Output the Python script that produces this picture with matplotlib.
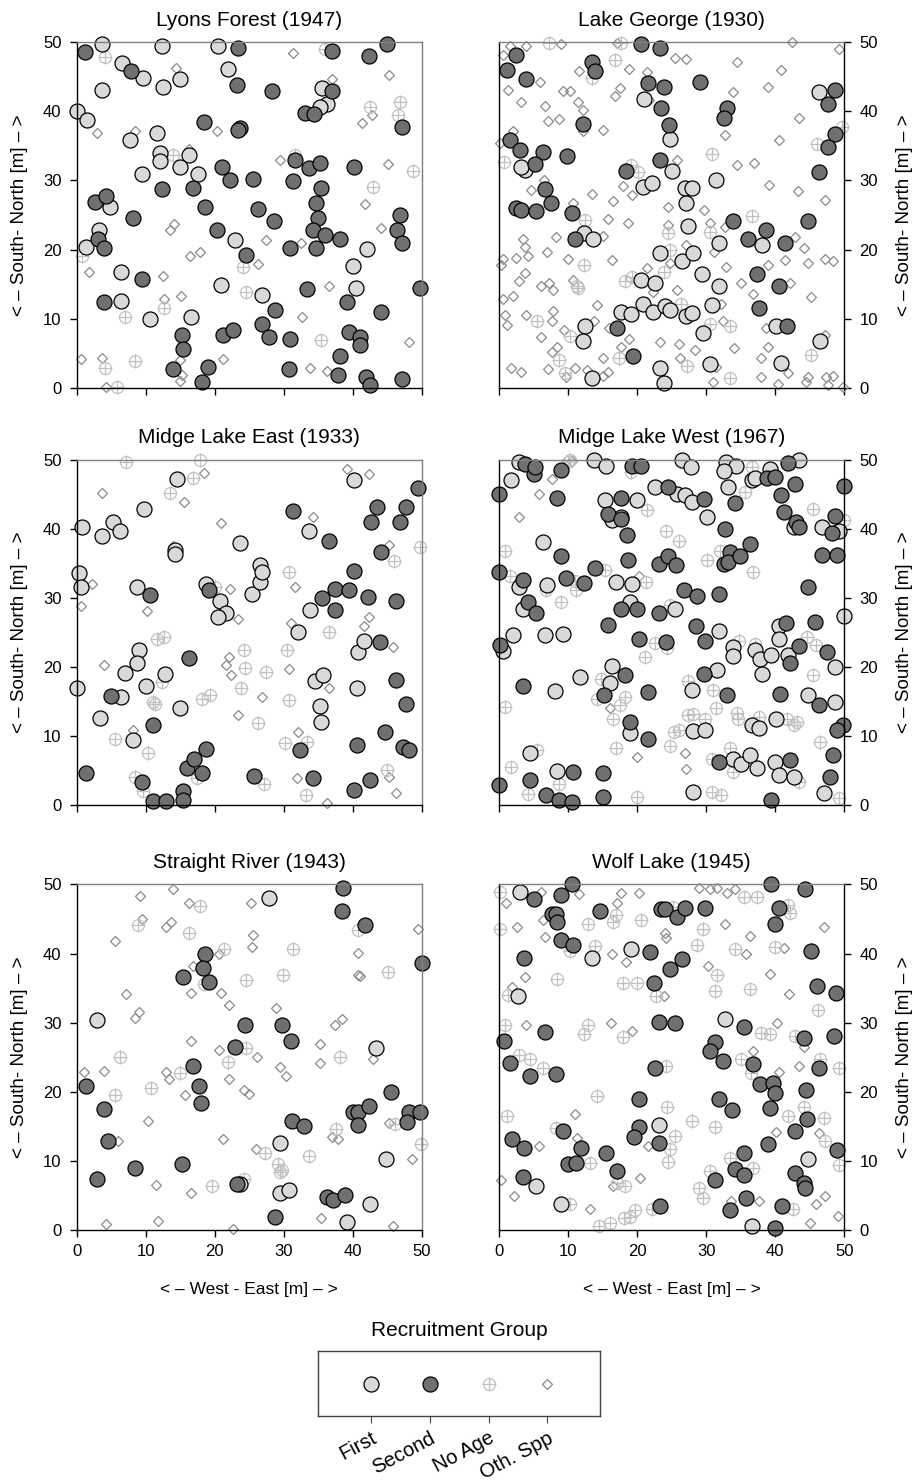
import matplotlib
matplotlib.use("Agg")
import matplotlib.pyplot as plt
import numpy as np

plt.rcParams['font.family'] = ['Liberation Sans', 'DejaVu Sans']

# ---- data: (x, y) stem positions in metres ----
lyons_first = [(3.6, 49.7), (12.3, 49.4), (20.5, 49.4), (6.5, 47.0), (9.6, 44.8), (14.9, 44.7),
               (3.7, 43.1), (12.5, 43.5), (21.9, 46.2), (0.0, 40.0), (1.5, 38.7), (35.5, 43.4),
               (36.2, 41.0), (35.3, 40.6), (11.7, 36.8), (7.7, 35.8), (12.0, 34.0), (12.0, 32.8),
               (16.2, 33.7), (14.9, 32.0), (17.6, 31.0), (9.4, 31.0), (4.8, 26.2), (3.2, 22.9),
               (1.4, 20.4), (22.9, 21.4), (6.4, 16.8), (6.4, 12.5), (10.6, 10.0), (16.6, 10.3),
               (20.9, 14.9), (26.8, 13.4), (40.1, 17.6), (40.5, 14.5), (42.0, 20.1)]
lyons_second = [(1.2, 48.6), (23.3, 49.2), (37.0, 48.8), (42.4, 48.0), (44.9, 49.8), (7.8, 45.8),
                (23.2, 43.8), (28.3, 43.0), (37.0, 42.9), (33.1, 39.8), (34.4, 39.6), (18.5, 38.5),
                (23.6, 37.6), (23.3, 37.3), (47.1, 37.7), (21.0, 32.0), (22.2, 30.0), (25.6, 30.2),
                (31.4, 29.9), (31.6, 32.9), (33.6, 31.8), (35.2, 32.5), (35.4, 28.9), (34.7, 26.8),
                (35.0, 24.5), (34.2, 22.9), (36.0, 22.1), (34.7, 20.2), (38.2, 21.6), (30.9, 20.2),
                (40.2, 31.9), (46.8, 25.0), (46.4, 22.9), (47.1, 21.0), (2.7, 26.9), (4.3, 27.8),
                (3.1, 21.6), (3.9, 20.2), (8.1, 24.5), (12.4, 28.7), (16.8, 28.9), (18.6, 26.2),
                (20.3, 22.9), (24.5, 19.2), (26.3, 25.9), (28.6, 24.2), (9.4, 15.8), (4.0, 12.4),
                (15.3, 7.7), (15.4, 5.6), (13.9, 2.7), (18.1, 0.9), (19.0, 3.0), (21.2, 7.6),
                (22.7, 8.4), (26.9, 9.2), (27.8, 7.4), (28.7, 11.2), (30.9, 7.1), (30.8, 2.7),
                (33.4, 14.3), (39.1, 12.4), (39.4, 8.0), (41.1, 7.3), (41.1, 6.2), (38.1, 4.6),
                (37.9, 1.9), (41.9, 1.6), (42.5, 0.4), (44.1, 10.9), (47.1, 1.2), (49.7, 14.5)]
lyons_noage = [(4.1, 47.9), (36.0, 49.0), (42.5, 40.6), (46.9, 41.3), (46.6, 39.5), (13.9, 33.7),
               (31.6, 33.7), (48.7, 31.4), (42.9, 29.1), (0.7, 19.1), (24.1, 17.5), (24.5, 13.8),
               (12.6, 11.5), (7.0, 10.3), (4.1, 2.8), (8.4, 3.9), (5.8, 0.1), (35.4, 6.9)]
lyons_oth = [(31.3, 48.5), (45.2, 45.3), (14.4, 46.3), (37.0, 44.7), (41.4, 38.3), (42.8, 39.5),
             (3.0, 36.8), (8.5, 37.2), (20.4, 37.1), (16.3, 34.6), (29.5, 32.9), (45.1, 32.4),
             (41.8, 26.6), (44.1, 23.1), (13.5, 22.9), (14.1, 23.7), (16.4, 19.1), (17.8, 19.7),
             (27.5, 21.4), (32.5, 21.0), (26.2, 17.9), (1.8, 16.7), (12.5, 16.2), (12.6, 12.9),
             (15.1, 13.3), (36.6, 14.8), (32.6, 10.3), (48.1, 6.6), (0.6, 4.1), (3.6, 4.3),
             (4.3, 0.1), (15.0, 4.0), (15.2, 1.8), (15.0, 1.0), (21.2, 4.1), (33.8, 2.9), (36.3, 2.4)]

george_first = [(21.0, 41.8), (24.8, 36.0), (25.0, 31.4), (3.7, 31.5), (3.2, 31.9), (20.8, 29.0),
                (22.1, 29.6), (26.9, 28.9), (27.9, 28.9), (27.1, 26.8), (27.3, 23.4), (31.4, 30.1),
                (12.3, 22.4), (13.6, 21.5), (31.9, 21.0), (38.1, 20.7), (23.3, 19.5), (26.5, 18.4),
                (28.1, 19.5), (29.4, 16.4), (31.9, 14.8), (20.6, 15.6), (22.6, 15.1), (17.6, 11.0),
                (19.1, 10.7), (20.8, 12.1), (22.3, 10.9), (24.0, 11.8), (24.8, 11.2), (27.1, 10.4),
                (27.9, 10.8), (30.9, 12.0), (29.5, 7.9), (12.4, 8.9), (12.1, 6.8), (13.5, 1.4),
                (23.3, 2.8), (23.8, 0.7), (30.5, 3.5), (40.1, 9.0), (40.8, 3.6), (46.5, 6.7),
                (46.4, 42.8)]
george_second = [(2.4, 48.2), (1.1, 46.0), (3.9, 44.7), (13.4, 47.1), (13.9, 45.9), (20.6, 49.7),
                 (23.3, 49.2), (21.5, 44.1), (23.8, 43.5), (23.5, 40.5), (24.6, 38.1), (29.1, 44.3),
                 (33.0, 40.5), (32.5, 39.0), (12.2, 38.2), (1.5, 35.9), (3.0, 34.4), (6.3, 34.1),
                 (5.2, 32.4), (9.8, 33.5), (18.4, 31.4), (23.3, 32.9), (6.6, 28.7), (7.5, 26.8),
                 (2.4, 26.0), (3.2, 25.7), (5.3, 25.6), (10.6, 25.3), (11.0, 21.5), (33.9, 24.1),
                 (36.1, 21.6), (38.7, 22.9), (41.4, 21.0), (44.8, 24.2), (37.3, 16.4), (40.5, 14.7),
                 (37.7, 11.6), (41.7, 8.9), (17.0, 8.7), (19.4, 4.6), (48.7, 43.1), (47.7, 41.1),
                 (48.7, 36.7), (47.6, 34.9), (46.4, 31.3)]
george_noage = [(7.2, 49.9), (17.7, 49.9), (16.8, 47.5), (13.4, 44.8), (0.7, 32.7), (19.1, 32.2),
                (20.1, 31.3), (30.8, 33.9), (46.0, 35.3), (49.7, 37.7), (36.6, 24.9), (12.4, 24.3),
                (24.4, 22.4), (30.6, 22.5), (24.7, 19.9), (12.3, 17.7), (18.2, 15.4), (19.2, 16.1),
                (23.8, 16.8), (11.2, 14.7), (11.4, 14.4), (26.3, 12.1), (5.5, 9.7), (10.3, 7.5),
                (30.6, 9.2), (33.4, 9.0), (8.7, 4.0), (17.4, 4.3), (27.2, 3.2), (33.4, 1.4),
                (45.2, 4.8), (9.5, 2.2)]
george_oth = [(0.6, 48.2), (1.5, 49.4), (3.9, 49.4), (9.0, 49.7), (17.0, 49.9), (25.5, 47.7),
              (27.1, 47.6), (34.4, 47.2), (42.4, 50.0), (49.3, 49.0), (18.8, 46.1), (21.4, 45.7),
              (11.6, 45.9), (40.8, 46.0), (5.9, 44.3), (1.2, 43.1), (3.1, 41.4), (6.6, 40.8),
              (9.3, 42.9), (10.2, 43.0), (11.4, 41.4), (12.1, 40.2), (17.5, 43.4), (16.8, 42.2),
              (21.7, 41.7), (33.9, 42.8), (39.0, 43.5), (43.5, 39.0), (8.6, 38.9), (7.1, 38.6),
              (15.1, 37.3), (2.0, 37.1), (0.1, 35.4), (32.7, 36.6), (40.6, 35.9), (12.2, 37.1),
              (25.8, 33.0), (34.5, 32.2), (36.9, 32.6), (39.1, 29.4), (43.3, 28.5), (47.2, 27.2),
              (4.6, 28.6), (6.5, 30.1), (13.4, 28.0), (16.5, 27.0), (17.9, 29.2), (19.2, 27.9),
              (24.5, 26.1), (10.7, 26.8), (15.8, 24.4), (18.6, 23.8), (24.5, 23.6), (29.6, 25.7),
              (30.5, 23.8), (32.7, 23.2), (42.9, 21.8), (44.1, 20.2), (44.8, 18.1), (47.2, 18.6),
              (48.4, 18.3), (3.5, 21.6), (3.7, 20.4), (0.6, 18.6), (2.4, 18.8), (4.2, 19.0),
              (6.9, 19.6), (9.9, 18.6), (8.2, 21.8), (15.1, 21.9), (16.4, 18.5), (21.4, 17.4),
              (24.7, 18.0), (27.1, 20.7), (31.1, 19.6), (32.9, 17.5), (35.1, 15.2), (36.8, 13.5),
              (39.0, 17.8), (41.4, 18.5), (42.1, 15.1), (45.2, 13.2), (3.7, 16.6), (2.8, 15.4),
              (6.0, 14.7), (7.2, 15.1), (7.8, 14.2), (2.0, 13.3), (0.6, 12.9), (10.7, 15.6),
              (14.1, 12.0), (15.9, 8.6), (22.3, 13.9), (25.8, 14.2), (32.2, 12.1), (32.4, 9.6),
              (34.0, 5.7), (38.7, 8.6), (39.0, 5.9), (0.8, 10.5), (1.1, 9.1), (3.9, 10.5),
              (7.6, 9.6), (7.8, 11.1), (9.4, 8.3), (6.1, 7.3), (8.3, 5.9), (7.6, 5.2),
              (15.0, 4.3), (13.7, 9.6), (18.8, 7.0), (17.7, 5.9), (23.3, 6.6), (26.2, 4.3),
              (31.4, 3.0), (31.0, 0.9), (37.9, 4.3), (37.9, 1.6), (40.4, 0.6), (41.9, 2.2),
              (44.7, 1.6), (44.5, 0.9), (47.4, 1.6), (48.3, 1.7), (47.6, 0.4), (49.8, 0.1),
              (1.7, 2.8), (3.1, 2.3), (7.0, 2.7), (9.7, 1.6), (11.0, 2.8), (12.7, 2.6),
              (15.8, 2.3), (15.0, 1.7), (26.1, 6.4), (28.4, 5.5), (47.2, 7.6), (0.2, 17.7)]

mle_first = [(0.7, 40.3), (3.6, 39.0), (5.2, 40.9), (6.3, 39.6), (9.8, 42.8), (14.6, 47.2),
             (0.4, 33.6), (0.6, 31.5), (8.7, 31.5), (14.3, 36.9), (14.3, 36.3), (23.6, 37.9),
             (18.7, 32.0), (20.7, 29.5), (21.7, 27.8), (20.5, 27.2), (25.4, 30.5), (26.5, 34.8),
             (26.5, 32.3), (26.8, 33.7), (33.7, 39.6), (32.1, 25.0), (33.8, 28.3), (40.2, 47.1),
             (40.8, 22.2), (41.6, 23.8), (40.6, 17.0), (34.5, 17.9), (35.7, 18.8), (35.2, 14.3),
             (35.4, 12.0), (9.0, 22.5), (8.8, 20.6), (7.0, 19.1), (10.1, 17.2), (12.8, 18.9),
             (0.1, 17.0), (6.4, 15.7), (3.3, 12.6), (8.1, 9.4), (14.9, 14.1)]
mle_second = [(31.4, 42.5), (36.5, 38.2), (40.2, 33.9), (35.5, 29.9), (37.4, 31.2), (37.4, 28.2),
              (39.5, 31.1), (42.2, 30.1), (42.7, 40.9), (43.5, 43.2), (44.1, 36.6), (46.9, 41.0),
              (47.7, 43.2), (49.4, 45.9), (46.2, 29.5), (43.9, 23.6), (46.2, 18.1), (47.7, 14.7),
              (44.7, 10.6), (47.3, 8.4), (48.1, 7.9), (40.6, 8.7), (42.5, 3.7), (40.2, 2.2),
              (32.3, 7.9), (34.2, 3.9), (25.7, 4.2), (10.6, 30.4), (19.1, 31.1), (16.2, 21.3),
              (5.0, 15.8), (11.1, 11.6), (1.4, 4.6), (9.5, 3.3), (11.0, 0.6), (12.9, 0.6),
              (15.4, 2.0), (15.4, 0.8), (16.0, 5.3), (17.0, 6.6), (18.1, 4.6), (18.7, 8.1)]
mle_noage = [(7.1, 49.7), (17.8, 50.0), (16.8, 47.3), (13.5, 45.1), (49.7, 37.4), (46.0, 35.3),
             (30.7, 33.8), (20.0, 31.6), (11.6, 24.1), (12.6, 24.3), (24.3, 22.5), (30.5, 22.5),
             (24.4, 19.9), (27.5, 19.3), (36.6, 25.0), (12.3, 17.8), (11.1, 14.9), (11.3, 14.6),
             (18.1, 15.4), (19.3, 16.0), (23.8, 16.9), (30.7, 15.2), (26.2, 11.9), (5.6, 9.6),
             (10.4, 7.5), (30.2, 9.0), (33.3, 9.2), (8.5, 4.0), (9.6, 2.1), (17.4, 3.9),
             (27.1, 3.1), (33.2, 1.4), (45.0, 5.1)]
mle_oth = [(3.6, 45.2), (15.6, 43.9), (18.4, 48.1), (20.9, 40.8), (34.3, 41.7), (39.1, 48.7),
           (42.4, 47.9), (45.2, 37.7), (2.2, 32.0), (0.6, 28.8), (10.2, 28.1), (13.9, 37.5),
           (22.2, 31.2), (23.3, 26.9), (31.6, 31.6), (31.1, 26.4), (41.7, 25.9), (42.3, 27.2),
           (45.9, 22.9), (4.0, 20.3), (22.1, 21.4), (21.7, 20.2), (22.4, 18.8), (30.8, 19.7),
           (26.8, 15.6), (23.3, 13.0), (36.5, 16.9), (8.1, 10.9), (32.1, 10.6), (31.9, 3.9),
           (36.2, 0.3), (45.3, 4.1), (46.3, 1.8)]

mlw_first = [(2.8, 49.6), (1.7, 47.1), (13.7, 50.0), (15.4, 49.1), (26.5, 50.0), (27.8, 48.9),
             (32.9, 49.7), (34.3, 49.1), (32.6, 48.4), (33.2, 46.0), (36.6, 47.0), (37.1, 47.4),
             (39.3, 48.6), (43.5, 49.9), (22.6, 46.1), (25.7, 45.0), (26.9, 44.9), (27.9, 43.8),
             (15.3, 44.1), (19.9, 44.1), (16.3, 41.2), (17.7, 41.7), (30.1, 41.7), (42.7, 40.2),
             (46.8, 40.2), (49.2, 39.7), (6.4, 38.1), (2.9, 31.6), (3.5, 28.4), (6.9, 31.9),
             (2.0, 24.6), (6.6, 24.6), (9.2, 24.8), (0.6, 22.3), (16.9, 32.3), (19.3, 32.0),
             (18.9, 29.4), (25.5, 28.4), (31.9, 25.2), (33.9, 22.9), (33.9, 21.6), (37.0, 22.5),
             (37.8, 21.2), (38.1, 19.0), (39.4, 21.7), (40.5, 25.9), (40.5, 24.1), (41.9, 21.7),
             (48.7, 20.0), (49.9, 27.3), (16.4, 20.1), (16.1, 17.6), (11.7, 18.6), (8.1, 16.5),
             (31.5, 19.5), (28.0, 16.6), (18.9, 10.4), (28.1, 10.7), (29.8, 10.8), (36.6, 11.6),
             (37.6, 11.1), (40.1, 12.5), (44.8, 15.9), (48.7, 14.9), (4.4, 7.5), (8.4, 5.0),
             (28.1, 1.9), (33.9, 6.7), (35.1, 6.0), (36.3, 7.2), (37.3, 5.3), (40.0, 6.3),
             (40.5, 4.3), (42.7, 4.1), (47.0, 1.7)]
mlw_second = [(0.0, 45.0), (3.7, 49.4), (5.0, 47.9), (5.2, 48.9), (9.0, 48.5), (8.4, 44.4),
              (19.3, 49.1), (20.6, 49.1), (24.5, 46.0), (29.7, 44.3), (34.2, 43.7), (17.7, 44.5),
              (15.8, 42.1), (17.6, 41.4), (18.5, 39.1), (32.7, 40.0), (41.8, 49.5), (38.8, 47.4),
              (39.9, 47.5), (42.8, 46.5), (40.9, 44.9), (41.2, 42.4), (43.0, 41.0), (43.4, 40.2),
              (49.9, 46.2), (48.7, 41.9), (48.2, 39.4), (46.8, 36.2), (48.9, 36.2), (44.7, 31.6),
              (45.8, 26.5), (0.0, 33.7), (3.5, 32.6), (4.2, 29.4), (5.3, 27.8), (8.9, 36.1),
              (9.6, 32.9), (12.3, 32.2), (13.9, 34.3), (18.7, 35.4), (17.7, 28.4), (19.9, 28.4),
              (15.8, 26.1), (23.1, 34.9), (24.4, 36.1), (25.6, 34.8), (26.8, 31.1), (28.7, 30.2),
              (31.8, 30.5), (33.4, 36.6), (32.5, 34.9), (33.2, 35.2), (34.9, 36.1), (36.3, 37.8),
              (23.1, 27.8), (20.3, 24.0), (24.2, 23.6), (28.5, 25.9), (29.8, 23.8), (0.1, 23.1),
              (41.6, 26.3), (43.5, 23.0), (42.2, 20.5), (47.5, 22.2), (3.4, 17.2), (18.2, 18.8),
              (15.2, 16.0), (21.5, 16.4), (29.6, 18.9), (33.0, 16.0), (40.7, 16.1), (46.3, 14.5),
              (18.9, 12.0), (21.6, 9.6), (49.8, 11.6), (48.9, 10.8), (48.4, 7.3), (48.0, 4.1),
              (31.9, 6.3), (42.2, 6.5), (0.0, 2.9), (4.4, 3.6), (6.8, 1.4), (8.7, 0.8),
              (10.5, 0.5), (10.7, 4.8), (15.1, 4.7), (15.0, 1.2), (39.4, 0.7)]
mlw_noage = [(10.2, 50.0), (10.0, 49.6), (19.1, 48.2), (21.4, 42.7), (24.2, 39.7), (26.1, 38.2),
             (36.6, 48.9), (35.6, 45.3), (45.5, 42.9), (50.0, 41.3), (0.8, 36.8), (1.5, 33.2),
             (11.0, 32.5), (11.1, 31.1), (9.0, 29.4), (6.8, 31.1), (15.3, 34.0), (21.3, 32.3),
             (24.8, 29.0), (30.1, 35.4), (32.0, 36.8), (36.7, 33.7), (21.1, 21.4), (22.6, 23.4),
             (24.3, 22.7), (34.8, 23.8), (37.1, 23.3), (44.6, 24.3), (45.9, 23.2), (45.5, 18.8),
             (14.7, 18.2), (14.2, 15.3), (18.2, 15.7), (17.5, 14.5), (16.5, 12.4), (27.3, 17.9),
             (31.0, 16.6), (31.4, 14.0), (34.4, 13.3), (34.6, 12.4), (37.6, 12.8), (41.7, 12.4),
             (43.1, 12.0), (42.7, 11.6), (27.4, 13.0), (28.1, 13.2), (29.8, 12.4), (25.3, 10.6),
             (26.0, 10.8), (24.8, 8.5), (16.9, 8.2), (5.5, 7.9), (33.5, 8.2), (46.5, 9.2),
             (0.8, 14.2), (1.7, 5.5), (8.7, 3.0), (4.2, 1.6), (20.0, 1.1), (30.8, 1.9),
             (32.2, 1.5), (30.8, 6.7), (33.9, 4.8), (43.4, 3.4), (49.2, 1.0)]
mlw_oth = [(2.8, 41.7), (5.8, 45.0), (7.6, 47.2), (10.5, 49.8), (20.3, 33.2), (16.1, 14.1),
           (19.9, 7.0), (26.9, 7.5), (27.0, 5.2)]

sr_first = [(27.9, 48.1), (3.0, 30.4), (43.3, 26.3), (29.4, 12.6), (44.8, 10.3), (23.6, 6.7),
            (29.5, 5.3), (30.8, 5.8), (42.5, 3.8), (39.1, 1.1)]
sr_second = [(38.6, 49.5), (38.4, 46.1), (41.8, 44.2), (50.0, 38.7), (18.6, 40.0), (18.3, 37.9),
             (19.2, 35.9), (15.4, 36.6), (24.4, 29.6), (29.7, 29.6), (31.1, 27.3), (22.9, 26.5),
             (16.8, 23.7), (17.7, 20.9), (18.0, 18.3), (1.4, 20.9), (3.9, 17.5), (4.5, 12.8),
             (2.9, 7.3), (8.4, 8.9), (15.2, 9.6), (31.2, 15.7), (32.9, 15.1), (45.6, 20.0),
             (40.1, 17.0), (40.7, 17.0), (40.7, 15.2), (42.4, 18.0), (48.1, 17.1), (49.7, 17.0),
             (47.8, 15.6), (36.2, 4.7), (37.1, 4.4), (38.9, 5.1), (28.7, 1.9), (23.2, 6.6)]
sr_noage = [(17.8, 46.9), (8.9, 44.1), (16.2, 43.0), (21.3, 40.7), (31.3, 40.6), (40.8, 43.4),
            (45.1, 37.4), (29.9, 36.9), (24.5, 36.2), (18.4, 35.6), (6.3, 25.0), (24.5, 26.4),
            (21.9, 24.3), (15.0, 22.7), (5.6, 19.6), (10.7, 20.5), (38.2, 25.0), (37.6, 14.6),
            (46.1, 15.3), (49.9, 12.4), (33.7, 10.7), (27.3, 11.1), (29.2, 9.6), (29.7, 8.7),
            (29.4, 8.4), (24.3, 7.3), (19.6, 6.3)]
sr_oth = [(9.2, 48.3), (9.4, 45.0), (14.0, 49.4), (13.7, 44.6), (13.0, 43.8), (16.3, 47.3),
          (5.5, 41.8), (20.6, 40.0), (25.2, 47.3), (25.6, 42.7), (25.4, 41.0), (16.8, 38.2),
          (49.5, 43.5), (40.8, 40.1), (40.8, 36.9), (41.0, 36.7), (7.2, 34.2), (9.0, 31.6),
          (8.5, 30.7), (16.5, 34.3), (20.9, 34.3), (22.1, 32.5), (28.9, 32.1), (37.4, 29.7),
          (38.4, 30.6), (16.5, 27.3), (20.6, 26.1), (26.1, 25.0), (35.2, 26.9), (35.3, 24.2),
          (43.0, 24.8), (29.5, 23.6), (30.3, 22.3), (1.1, 22.8), (4.0, 23.0), (12.9, 22.8),
          (13.4, 21.8), (22.1, 21.9), (24.3, 20.3), (24.9, 19.7), (15.7, 19.6), (10.4, 15.7),
          (21.2, 13.2), (26.0, 11.7), (6.0, 12.9), (37.0, 13.4), (37.9, 13.2), (45.2, 15.5),
          (48.6, 10.3), (11.5, 6.5), (16.6, 5.4), (4.3, 0.9), (11.8, 1.3), (22.7, 0.2),
          (35.4, 1.8), (45.8, 0.5)]

wolf_first = [(3.0, 48.9), (19.1, 40.6), (13.4, 39.4), (2.7, 33.8), (32.7, 30.5), (23.2, 15.2),
              (44.8, 10.3), (5.3, 6.3), (9.0, 3.7), (36.6, 0.5)]
wolf_second = [(10.6, 50.0), (9.0, 48.5), (5.1, 47.9), (7.6, 45.7), (8.2, 45.7), (8.3, 44.5),
               (9.0, 41.9), (10.7, 41.2), (3.6, 39.3), (14.6, 46.1), (23.5, 46.4), (24.0, 46.5),
               (25.7, 45.3), (26.9, 46.6), (29.8, 46.6), (21.8, 40.2), (24.7, 37.8), (26.5, 39.2),
               (22.4, 35.8), (23.2, 30.1), (25.5, 30.0), (39.4, 50.0), (44.3, 49.3), (40.6, 46.6),
               (39.9, 44.3), (45.2, 40.3), (46.1, 35.3), (48.8, 34.3), (44.2, 27.8), (48.5, 28.0),
               (35.5, 29.3), (31.2, 27.2), (30.5, 25.9), (32.4, 24.4), (36.8, 24.0), (37.8, 21.1),
               (39.7, 21.3), (39.9, 19.8), (39.2, 17.7), (44.5, 20.3), (46.4, 23.5), (31.9, 19.0),
               (33.7, 17.4), (42.8, 14.3), (44.6, 16.0), (48.9, 11.5), (38.9, 12.4), (35.5, 11.2),
               (34.1, 8.8), (35.5, 7.9), (31.3, 7.2), (35.8, 4.6), (33.4, 2.9), (41.0, 3.4),
               (39.9, 0.3), (42.8, 8.2), (44.2, 6.8), (44.3, 6.1), (6.6, 28.6), (0.7, 27.4),
               (1.5, 24.2), (4.4, 22.3), (8.2, 22.5), (22.5, 23.5), (20.2, 18.9), (20.3, 14.9),
               (19.5, 13.4), (23.1, 12.6), (9.3, 14.3), (1.9, 13.2), (3.6, 11.9), (11.9, 11.9),
               (10.0, 9.6), (11.1, 9.7), (15.4, 11.2), (17.0, 8.5), (3.5, 7.6), (23.3, 3.4)]
wolf_noage = [(0.1, 48.9), (0.1, 43.5), (16.9, 45.6), (16.5, 44.5), (12.8, 44.3), (20.5, 44.8),
              (10.3, 40.3), (13.9, 41.1), (8.3, 36.3), (18.0, 35.8), (20.0, 35.8), (22.7, 33.8),
              (1.3, 34.0), (28.6, 41.3), (29.5, 43.5), (25.2, 46.8), (35.4, 48.2), (37.3, 48.2),
              (41.9, 47.0), (42.2, 45.9), (34.1, 40.7), (39.9, 40.9), (31.3, 34.6), (31.5, 36.9),
              (36.3, 34.8), (46.2, 31.8), (0.8, 29.7), (12.8, 29.6), (12.3, 28.4), (17.9, 27.9),
              (37.9, 28.5), (39.3, 28.4), (42.8, 28.0), (2.8, 25.3), (4.5, 24.7), (6.3, 23.4),
              (24.2, 23.7), (35.1, 24.7), (36.5, 22.7), (46.5, 24.8), (49.2, 23.5), (14.1, 19.4),
              (24.3, 17.8), (1.1, 16.5), (27.9, 15.8), (31.3, 14.9), (8.2, 14.7), (41.9, 16.5),
              (44.1, 17.8), (47.0, 16.2), (47.2, 12.8), (25.4, 13.6), (24.8, 11.7), (24.5, 9.9),
              (13.1, 9.7), (33.5, 10.4), (36.8, 9.0), (30.5, 8.5), (49.2, 9.4), (17.0, 6.8),
              (18.2, 6.4), (29.0, 6.1), (29.5, 4.6), (10.3, 3.7), (14.5, 0.6), (16.1, 1.0),
              (18.1, 1.7), (19.0, 1.9), (19.7, 2.9), (22.1, 3.0), (42.6, 3.0)]
wolf_oth = [(1.0, 47.3), (6.1, 48.9), (11.6, 48.6), (17.0, 47.3), (17.7, 48.8), (20.3, 48.8),
            (2.5, 43.8), (6.4, 44.8), (6.6, 42.4), (24.0, 43.0), (24.2, 42.3), (16.4, 39.9),
            (18.3, 38.8), (32.7, 44.3), (29.0, 49.5), (30.5, 49.3), (31.5, 49.5), (33.0, 48.7),
            (34.2, 49.4), (36.3, 42.6), (35.8, 40.0), (39.2, 37.0), (41.2, 40.8), (47.1, 43.8),
            (30.2, 38.2), (42.0, 34.1), (1.9, 35.2), (3.7, 36.6), (23.8, 33.9), (3.9, 29.6),
            (16.2, 29.9), (19.3, 28.8), (36.8, 25.9), (40.3, 29.9), (43.5, 23.7), (40.6, 22.8),
            (44.2, 26.5), (11.0, 16.8), (11.2, 13.3), (5.8, 12.2), (21.6, 12.2), (40.1, 14.2),
            (46.3, 14.0), (0.3, 7.2), (2.1, 4.9), (13.2, 3.1), (16.5, 6.3), (20.4, 7.5),
            (33.6, 4.2), (37.7, 4.2), (45.9, 3.7), (47.2, 4.9), (45.0, 1.0), (49.1, 2.0)]

sites = [
    ("Lyons Forest (1947)", lyons_first, lyons_second, lyons_noage, lyons_oth),
    ("Lake George (1930)", george_first, george_second, george_noage, george_oth),
    ("Midge Lake East (1933)", mle_first, mle_second, mle_noage, mle_oth),
    ("Midge Lake West (1967)", mlw_first, mlw_second, mlw_noage, mlw_oth),
    ("Straight River (1943)", sr_first, sr_second, sr_noage, sr_oth),
    ("Wolf Lake (1945)", wolf_first, wolf_second, wolf_noage, wolf_oth),
]
groups = ["First", "Second", "No Age", "Oth. Spp"]
ticks = [0, 10, 20, 30, 40, 50]

FIRST_C = "#d9d9d9"
SECOND_C = "#707070"
NOAGE_C = "#c0c0c0"
OTH_C = "#8a8a8a"
FRAME_C = "#808080"


def draw_group(ax, kind, x, y, clip=False):
    if kind == 0:
        ax.plot(x, y, 'o', ms=10.8, mfc=FIRST_C, mec='black', mew=0.9, clip_on=clip, zorder=4)
    elif kind == 1:
        ax.plot(x, y, 'o', ms=10.8, mfc=SECOND_C, mec='black', mew=0.9, clip_on=clip, zorder=4)
    elif kind == 2:
        ax.plot(x, y, 'o', ms=8.6, mfc='none', mec=NOAGE_C, mew=0.9, clip_on=clip, zorder=3)
        ax.plot(x, y, '+', ms=10.5, mec=NOAGE_C, mew=0.9, clip_on=clip, zorder=3)
    else:
        ax.plot(x, y, 'D', ms=4.6, mfc='none', mec=OTH_C, mew=0.9, clip_on=clip, zorder=2)


fig = plt.figure(figsize=(9.19, 14.84), dpi=100)
lefts = [0.0835, 0.5433]
bottoms = [0.7387, 0.4575, 0.1712]
W, H = 0.3754, 0.2328

for i, (title, first, second, noage, oth) in enumerate(sites):
    row, col = divmod(i, 2)
    ax = fig.add_axes([lefts[col], bottoms[row], W, H])
    for kind, pts in [(3, oth), (2, noage), (0, first), (1, second)]:
        xs, ys = zip(*pts)
        draw_group(ax, kind, xs, ys)
    ax.set_xlim(0, 50)
    ax.set_ylim(0, 50)
    ax.set_xticks(ticks)
    ax.set_yticks(ticks)
    ax.tick_params(direction='out', length=5, width=1, color='black', labelsize=12)
    ax.tick_params(axis='y', pad=6)
    ax.tick_params(axis='x', pad=5)
    ax.set_title(title, fontsize=15, pad=12)
    ax.spines['top'].set_color(FRAME_C)
    ax.spines['left'].set_color('black')
    ax.spines['bottom'].set_color('black')
    ax.spines['right'].set_color('black' if col == 1 else FRAME_C)
    for s in ax.spines.values():
        s.set_linewidth(1.0)
        s.set_zorder(5)
    ylab = "< – South- North [m] – >"
    if col == 0:
        ax.set_ylabel(ylab, fontsize=13.5)
        ax.yaxis.set_label_coords(-0.14, 0.5)
    else:
        ax.yaxis.tick_right()
        ax.yaxis.set_label_position('right')
        ax.set_ylabel(ylab, fontsize=13.5)
        ax.yaxis.set_label_coords(1.15, 0.5)
    if row < 2:
        ax.tick_params(axis='x', labelbottom=False)
    else:
        ax.set_xlabel("< – West - East [m] – >", fontsize=12.5)
        ax.xaxis.set_label_coords(0.5, -0.15)

# legend panel
lax = fig.add_axes([0.3464, 0.0458, 0.3065, 0.0438])
for k in range(4):
    draw_group(lax, k, [k + 1], [0.5], clip=True)
lax.set_xlim(0.1, 4.9)
lax.set_ylim(0, 1)
lax.set_yticks([])
lax.set_xticks([1, 2, 3, 4])
lax.set_xticklabels(groups, rotation=28, ha='right', rotation_mode='anchor', fontsize=14.5)
lax.tick_params(axis='x', direction='out', length=5, color='#404040', pad=4)
for s in lax.spines.values():
    s.set_color('#404040')
    s.set_linewidth(1.0)
lax.set_title("Recruitment Group", fontsize=15, pad=11)

fig.savefig("out.png", dpi=100)
